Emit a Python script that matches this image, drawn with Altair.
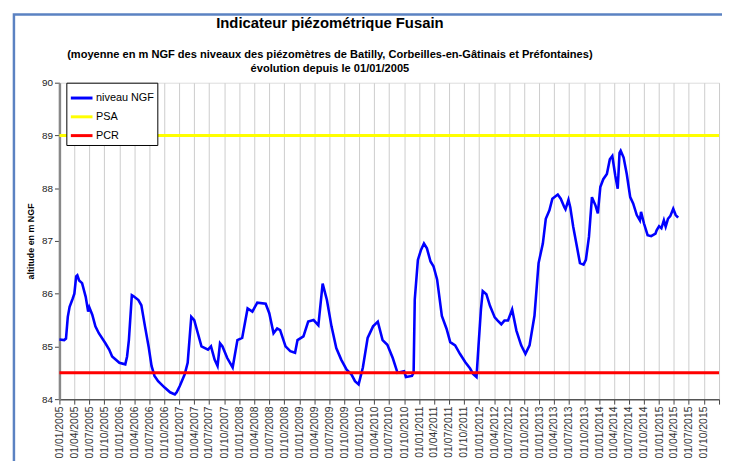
import altair as alt
import pandas as pd

# ---- data ----
dates = [
    "2005-01-01", "2005-01-30", "2005-02-10", "2005-02-21", "2005-03-04", "2005-03-22", "2005-04-02",
    "2005-04-13", "2005-04-20", "2005-05-01", "2005-05-19", "2005-06-10", "2005-06-25", "2005-07-02",
    "2005-07-20", "2005-08-08", "2005-08-29", "2005-10-08", "2005-10-31", "2005-11-18", "2006-01-01",
    "2006-02-06", "2006-02-17", "2006-02-28", "2006-03-18", "2006-03-29", "2006-04-27", "2006-05-15",
    "2006-06-06", "2006-06-28", "2006-07-16", "2006-08-03", "2006-08-25", "2006-10-04", "2006-11-06",
    "2006-12-05", "2006-12-16", "2007-01-04", "2007-02-03", "2007-02-21", "2007-03-15", "2007-04-02",
    "2007-04-24", "2007-05-16", "2007-06-25", "2007-07-13", "2007-08-04", "2007-08-22", "2007-09-06",
    "2007-09-21", "2007-10-20", "2007-11-22", "2007-12-21", "2008-01-19", "2008-02-21", "2008-03-21",
    "2008-04-20", "2008-06-10", "2008-07-02", "2008-07-28", "2008-08-19", "2008-09-06", "2008-10-09",
    "2008-11-07", "2008-12-06", "2008-12-21", "2009-01-26", "2009-02-24", "2009-03-29", "2009-04-27",
    "2009-05-23", "2009-06-18", "2009-07-16", "2009-08-14", "2009-09-13", "2009-10-16", "2009-11-14",
    "2009-12-06", "2009-12-28", "2010-01-23", "2010-02-21", "2010-03-26", "2010-04-24", "2010-05-23",
    "2010-06-21", "2010-07-24", "2010-08-22", "2010-10-01", "2010-10-12", "2010-11-18", "2010-11-28",
    "2010-12-05", "2010-12-24", "2011-01-12", "2011-01-30", "2011-02-17", "2011-03-11", "2011-03-29",
    "2011-04-20", "2011-05-19", "2011-06-17", "2011-07-09", "2011-08-08", "2011-09-06", "2011-10-09",
    "2011-11-07", "2011-11-25", "2011-12-16", "2011-12-28", "2012-01-12", "2012-01-23", "2012-02-14",
    "2012-03-07", "2012-04-05", "2012-04-23", "2012-05-15", "2012-06-03", "2012-06-25", "2012-07-20",
    "2012-08-15", "2012-09-13", "2012-10-09", "2012-11-03", "2012-12-03", "2012-12-28", "2013-01-23",
    "2013-02-10", "2013-03-04", "2013-03-22", "2013-04-24", "2013-05-12", "2013-06-03", "2013-06-10",
    "2013-06-28", "2013-07-09", "2013-07-27", "2013-08-15", "2013-09-06", "2013-09-28", "2013-10-12",
    "2013-10-31", "2013-11-18", "2013-12-10", "2013-12-24", "2014-01-08", "2014-01-26", "2014-02-17",
    "2014-03-07", "2014-03-22", "2014-04-09", "2014-04-24", "2014-05-05", "2014-05-12", "2014-05-30",
    "2014-06-18", "2014-07-09", "2014-07-27", "2014-08-18", "2014-09-06", "2014-09-13", "2014-10-01",
    "2014-10-23", "2014-11-14", "2014-12-10", "2014-12-17", "2015-01-01", "2015-01-15", "2015-01-30",
    "2015-02-10", "2015-02-24", "2015-03-10", "2015-03-28", "2015-04-12", "2015-04-27",
]
niveau = [
    85.13, 85.12, 85.15, 85.56, 85.75, 85.90, 86.00,
    86.33, 86.35, 86.25, 86.20, 85.94, 85.66, 85.74,
    85.60, 85.38, 85.25, 85.06, 84.94, 84.81, 84.69,
    84.66, 84.81, 85.12, 85.97, 85.95, 85.88, 85.78,
    85.38, 85.00, 84.63, 84.44, 84.34, 84.22, 84.13,
    84.09, 84.13, 84.25, 84.47, 84.69, 85.56, 85.50,
    85.25, 85.00, 84.94, 85.00, 84.75, 84.63, 85.06,
    85.00, 84.78, 84.60, 85.12, 85.16, 85.72, 85.66,
    85.83, 85.81, 85.63, 85.25, 85.34, 85.31, 85.00,
    84.91, 84.88, 85.12, 85.19, 85.47, 85.50, 85.40,
    86.19, 85.88, 85.38, 84.97, 84.75, 84.56, 84.47,
    84.34, 84.28, 84.60, 85.16, 85.38, 85.47, 85.12,
    85.03, 84.78, 84.50, 84.53, 84.42, 84.44, 84.50,
    85.89, 86.64, 86.83, 86.95, 86.86, 86.61, 86.52,
    86.27, 85.58, 85.33, 85.08, 85.02, 84.86, 84.70,
    84.58, 84.48, 84.42, 85.00, 85.70, 86.05, 85.99,
    85.77, 85.55, 85.49, 85.42, 85.49, 85.49, 85.70,
    85.30, 85.02, 84.86, 85.02, 85.58, 86.58, 86.95,
    87.42, 87.58, 87.80, 87.88, 87.80, 87.64, 87.60,
    87.78, 87.64, 87.27, 86.95, 86.58, 86.55, 86.64,
    87.08, 87.83, 87.67, 87.52, 88.02, 88.17, 88.27,
    88.55, 88.61, 88.24, 87.99, 88.67, 88.71, 88.58,
    88.27, 87.83, 87.71, 87.49, 87.39, 87.55, 87.33,
    87.11, 87.09, 87.14, 87.20, 87.28, 87.24, 87.39,
    87.27, 87.42, 87.47, 87.61, 87.49, 87.44,
]
series_names = ["niveau NGF", "PSA", "PCR"]
series_colors = ["#0000FF", "#FFFF00", "#FF0000"]
threshold_names = ["PSA", "PCR"]
threshold_levels = [89.0, 84.5]
y_ticks = [84, 85, 86, 87, 88, 89, 90]
tick_years = list(range(2005, 2016))
tick_months = [1, 4, 7, 10]

FONT = "Liberation Sans"

df_line = pd.DataFrame({"date": dates, "niveau": niveau, "serie": "niveau NGF"})
df_thr = pd.DataFrame({"serie": threshold_names, "niveau": threshold_levels})

x_ticks = [alt.DateTime(year=y, month=m, date=1, utc=True) for y in tick_years for m in tick_months]
x_ticks.append(alt.DateTime(year=2016, month=1, date=1, utc=True))

x_scale = alt.Scale(
    type="utc",
    domain=[alt.DateTime(year=2005, month=1, date=1, utc=True),
            alt.DateTime(year=2016, month=1, date=1, utc=True)],
    nice=False,
)
y_scale = alt.Scale(domain=[84, 90], nice=False, zero=False)
color_scale = alt.Scale(domain=series_names, range=series_colors)

x_axis = alt.Axis(
    values=x_ticks,
    labelExpr="utcFormat(datum.value, '%Y') == '2016' ? '' : utcFormat(datum.value, '%d/%m/%Y')",
    labelAngle=270,
    labelFontSize=10.5,
    labelFont=FONT,
    labelColor="#333333",
    labelPadding=2,
    labelOverlap=False,
    labelFlush=False,
    tickSize=5,
    tickColor="#444444",
    domainColor="#555555",
    domainWidth=1.5,
    grid=True,
    gridColor="#cccccc",
    gridWidth=1,
    title=None,
)
y_axis = alt.Axis(
    values=y_ticks,
    format="d",
    labelFontSize=10,
    labelFont=FONT,
    labelColor="#222222",
    tickSize=5,
    tickColor="#444444",
    domainColor="#888888",
    domainWidth=2.5,
    grid=False,
    title="altitude en m NGF",
    titleFont=FONT,
    titleFontSize=9,
    titleFontWeight="bold",
    titleColor="#000000",
    titlePadding=6,
)

legend = alt.Legend(
    title=None,
    orient="none",
    legendX=7,
    legendY=0,
    symbolType="stroke",
    symbolSize=480,
    symbolStrokeWidth=3,
    labelFont=FONT,
    labelFontSize=11,
    labelColor="#000000",
    strokeColor="#000000",
    fillColor="#ffffff",
    padding=3,
    rowPadding=-8,
    labelOffset=2,
)

line = alt.Chart(df_line).mark_line(strokeWidth=2.6).encode(
    x=alt.X("date:T", scale=x_scale, axis=x_axis),
    y=alt.Y("niveau:Q", scale=y_scale, axis=y_axis),
    color=alt.Color("serie:N", scale=color_scale, legend=legend),
)

rules = alt.Chart(df_thr).mark_rule(strokeWidth=3).encode(
    y=alt.Y("niveau:Q", scale=y_scale),
    color=alt.Color("serie:N", scale=color_scale, legend=legend),
)

# decorative frame of the source document (not data)
frame = alt.Chart(pd.DataFrame({"k": [0]})).mark_rect(
    fill=None, stroke="#5b82c2", strokeWidth=2.5
).encode(
    x=alt.value(-46), x2=alt.value(720), y=alt.value(-69), y2=alt.value(420)
)

chart = alt.layer(frame, line, rules).properties(
    width=667,
    height=320,
    autosize=alt.AutoSizeParams(type="none"),
    padding={"left": 52, "top": 73, "right": 3, "bottom": 60},
    title=alt.TitleParams(
        text="Indicateur piézométrique Fusain",
        subtitle=["(moyenne en m NGF des niveaux des piézomètres de Batilly, Corbeilles-en-Gâtinais et Préfontaines)",
                  "évolution depuis le 01/01/2005"],
        font=FONT,
        fontSize=15,
        fontWeight="bold",
        color="#000000",
        subtitleFont=FONT,
        subtitleFontSize=11.2,
        subtitleFontWeight="bold",
        subtitleColor="#000000",
        subtitlePadding=18,
        subtitleLineHeight=15,
        anchor="middle",
        frame="group",
        dx=-60,
        offset=-62,
    ),
).configure_view(stroke=None).configure(background="white")

chart.save("out.html", embed_options={"renderer": "svg", "actions": False})
